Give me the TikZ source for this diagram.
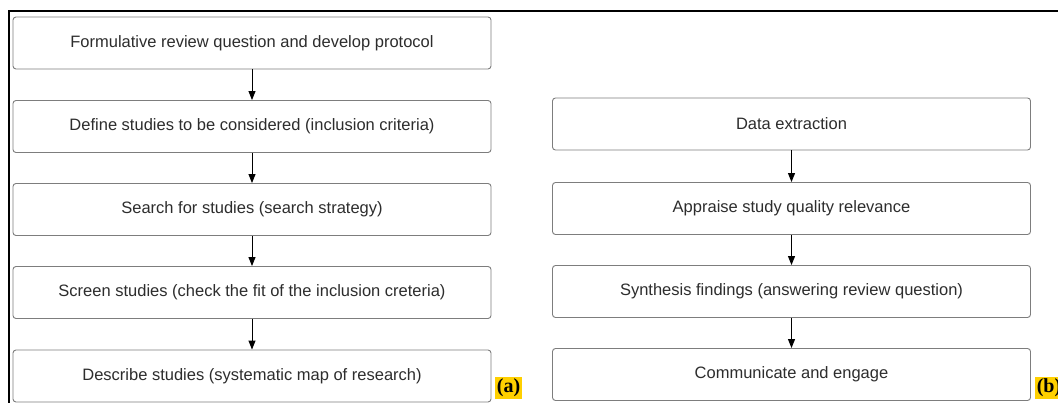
\documentclass[tikz,border=0pt]{standalone}
\usepackage{fontspec}
\setmainfont{Liberation Sans}
\newfontfamily\tagfont{Liberation Serif}
\usetikzlibrary{arrows.meta}
\definecolor{boxline}{RGB}{125,125,125}
\definecolor{boxtext}{RGB}{45,45,45}
\definecolor{tagfill}{RGB}{255,208,0}
\tikzset{
  stage/.style={draw=boxline, line width=0.9pt, rounded corners=3pt, fill=white,
    minimum width=478pt, minimum height=52pt, inner sep=0pt,
    text=boxtext, font=\fontsize{16.5}{19}\selectfont},
  flow/.style={draw=black, line width=1pt, -{Triangle[length=9pt,width=7pt]}},
  tag/.style={fill=tagfill, inner sep=1.5pt, font=\tagfont\bfseries\fontsize{20}{22}\selectfont}
}
\begin{document}
\begin{tikzpicture}[x=1pt,y=-1pt]
  \clip (0,0) rectangle (1058,403);
  % frame
  \coordinate (ftop) at (9,11);
  \draw[line width=1.4pt] (1058,11) -- (ftop) -- (9,403);
  % (a) left column
  \node[stage] (p1) at (252,43) {Formulative review question and develop protocol};
  \node[stage] (p2) at (252,126.5) {Define studies to be considered (inclusion criteria)};
  \node[stage] (p3) at (252,209.5) {Search for studies (search strategy)};
  \node[stage] (p4) at (252,292.5) {Screen studies (check the fit of the inclusion creteria)};
  \node[stage] (p5) at (252,376) {Describe studies (systematic map of research)};
  \draw[flow] (p1) -- (p2);
  \draw[flow] (p2) -- (p3);
  \draw[flow] (p3) -- (p4);
  \draw[flow] (p4) -- (p5);
  \node[tag] (ta) at (508.5,388) {(a)};
  % (b) right column
  \node[stage] (q1) at (791.5,124) {Data extraction};
  \node[stage] (q2) at (791.5,208.5) {Appraise study quality relevance};
  \node[stage] (q3) at (791.5,291.5) {Synthesis findings (answering review question)};
  \node[stage] (q4) at (791.5,374.5) {Communicate and engage};
  \draw[flow] (q1) -- (q2);
  \draw[flow] (q2) -- (q3);
  \draw[flow] (q3) -- (q4);
  \node[tag] (tb) at (1049,388) {(b)};
\end{tikzpicture}
\end{document}
